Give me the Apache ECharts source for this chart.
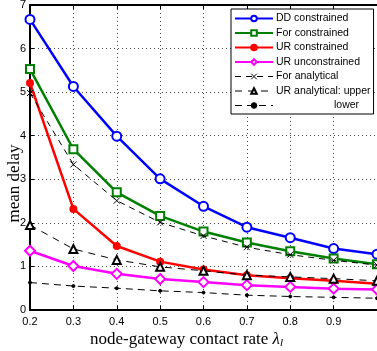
<!DOCTYPE html>
<html>
<head>
<meta charset="utf-8">
<script src="https://cdn.jsdelivr.net/npm/echarts@6/dist/echarts.min.js"></script>
<style>html,body{margin:0;padding:0;background:#fff}#c{width:377px;height:351px}</style>
</head>
<body>
<div id="c"></div>
<script>
const xValues = [0.2, 0.3, 0.4, 0.5, 0.6, 0.7, 0.8, 0.9, 1.0];
const ddConstrained = [6.67, 5.13, 3.99, 3.01, 2.38, 1.90, 1.66, 1.41, 1.28];
const forConstrained = [5.53, 3.69, 2.70, 2.16, 1.80, 1.55, 1.35, 1.18, 1.05];
const urConstrained = [5.21, 2.32, 1.47, 1.11, 0.93, 0.80, 0.73, 0.67, 0.60];
const urUnconstrained = [1.36, 1.01, 0.83, 0.71, 0.64, 0.57, 0.53, 0.49, 0.47];
const forAnalytical = [4.98, 3.34, 2.51, 2.01, 1.70, 1.44, 1.27, 1.14, 1.03];
const urUpper = [1.95, 1.40, 1.15, 0.99, 0.90, 0.80, 0.76, 0.72, 0.67];
const urLower = [0.63, 0.55, 0.50, 0.44, 0.40, 0.34, 0.31, 0.29, 0.27];
const seriesNames = ['DD constrained', 'For constrained', 'UR constrained', 'UR unconstrained', 'For analytical', 'UR analytical: upper', 'lower'];

const pairs = arr => xValues.map((x, i) => [x, arr[i]]);
const chart = echarts.init(document.getElementById('c'), null, {renderer: 'canvas'});
const sans = 'Liberation Sans, Arial, sans-serif';
const serif = 'Liberation Serif, Times New Roman, serif';

function solid(name, data, color, symbol, size) {
  return {
    name, type: 'line', data: pairs(data), symbol, symbolSize: size,
    lineStyle: {color, width: 2.5},
    itemStyle: {color, borderColor: color, borderWidth: 2},
    z: 3, animation: false
  };
}
function dashed(name, data, symbol, size, dash) {
  return {
    name, type: 'line', data: pairs(data), symbol, symbolSize: size,
    lineStyle: {color: '#000', width: 1, type: dash},
    itemStyle: {color: '#000', borderColor: '#000', borderWidth: 1},
    z: 4, animation: false
  };
}

const legendData = seriesNames.map((n, i) => i < 4
  ? {name: n}
  : {name: n, lineStyle: {width: 1}, itemStyle: {borderWidth: 1}});

const option = {
  backgroundColor: '#fff',
  animation: false,
  grid: {left: 30, right: 0, top: 5, bottom: 41, containLabel: false, outerBoundsMode: 'none'},
  legend: {
    left: 231, top: 9, orient: 'vertical',
    data: legendData,
    backgroundColor: '#fff', borderColor: '#000', borderWidth: 1,
    padding: [4, 3, 3, 3], itemWidth: 38, itemHeight: 7, itemGap: 3.5,
    textStyle: {fontFamily: sans, fontSize: 10.5, color: '#000', padding: [0, 0, 0, -2],
      rich: {ind: {fontFamily: sans, fontSize: 10.5, color: '#000', padding: [0, 0, 0, 58]}}},
    formatter: n => n === 'lower' ? '{ind|lower}' : n,
    selectedMode: false
  },
  xAxis: [{
    type: 'value', min: 0.2, max: 1.0, interval: 0.1,
    name: 'node-gateway contact rate {l|λ}{s|l}', nameLocation: 'middle', nameGap: 20,
    nameMoveOverlap: false,
    nameTextStyle: {fontFamily: serif, fontSize: 17, color: '#000', padding: [0, 34, 0, 0],
      rich: {l: {fontFamily: serif, fontSize: 17, fontStyle: 'italic', color: '#000'},
             s: {fontFamily: serif, fontSize: 11, fontStyle: 'italic', color: '#000', padding: [8, 0, 0, 0]}}},
    axisLine: {show: true, lineStyle: {color: '#000', width: 2}},
    axisTick: {show: true, inside: true, length: 4, lineStyle: {color: '#000'}},
    axisLabel: {fontFamily: sans, fontSize: 11, color: '#000', margin: 6, showMaxLabel: false,
      formatter: v => v.toFixed(1)},
    splitLine: {show: true, lineStyle: {color: '#444', width: 1, type: [1, 3]}}
  }, {
    type: 'value', min: 0.2, max: 1.0, interval: 0.1, position: 'top',
    axisLine: {show: true, lineStyle: {color: '#000', width: 2}},
    axisTick: {show: true, inside: true, length: 4, lineStyle: {color: '#000'}},
    axisLabel: {show: false}, splitLine: {show: false}
  }],
  yAxis: {
    type: 'value', min: 0, max: 7, interval: 1,
    name: 'mean delay', nameLocation: 'middle', nameGap: 7, nameRotate: 90,
    nameMoveOverlap: false,
    nameTextStyle: {fontFamily: serif, fontSize: 17, color: '#000', padding: [0, 52, 0, 0]},
    axisLine: {show: true, lineStyle: {color: '#000', width: 2}},
    axisTick: {show: true, inside: true, length: 4, lineStyle: {color: '#000'}},
    axisLabel: {fontFamily: sans, fontSize: 11, color: '#000', margin: 4},
    splitLine: {show: true, lineStyle: {color: '#444', width: 1, type: [1, 3]}}
  },
  series: [
    solid(seriesNames[0], ddConstrained, '#0000ff', 'emptyCircle', 9),
    solid(seriesNames[1], forConstrained, '#008000', 'emptyRect', 8),
    solid(seriesNames[2], urConstrained, '#ff0000', 'circle', 6),
    solid(seriesNames[3], urUnconstrained, '#ff00ff', 'emptyDiamond', 10),
    dashed(seriesNames[4], forAnalytical, 'path://M0,0L10,10M10,0L0,10', 6, [6, 5]),
    dashed(seriesNames[5], urUpper, 'emptyTriangle', 8, [7, 6]),
    dashed(seriesNames[6], urLower, 'circle', 3, [7, 5])
  ]
};
chart.setOption(option);
</script>
</body>
</html>
